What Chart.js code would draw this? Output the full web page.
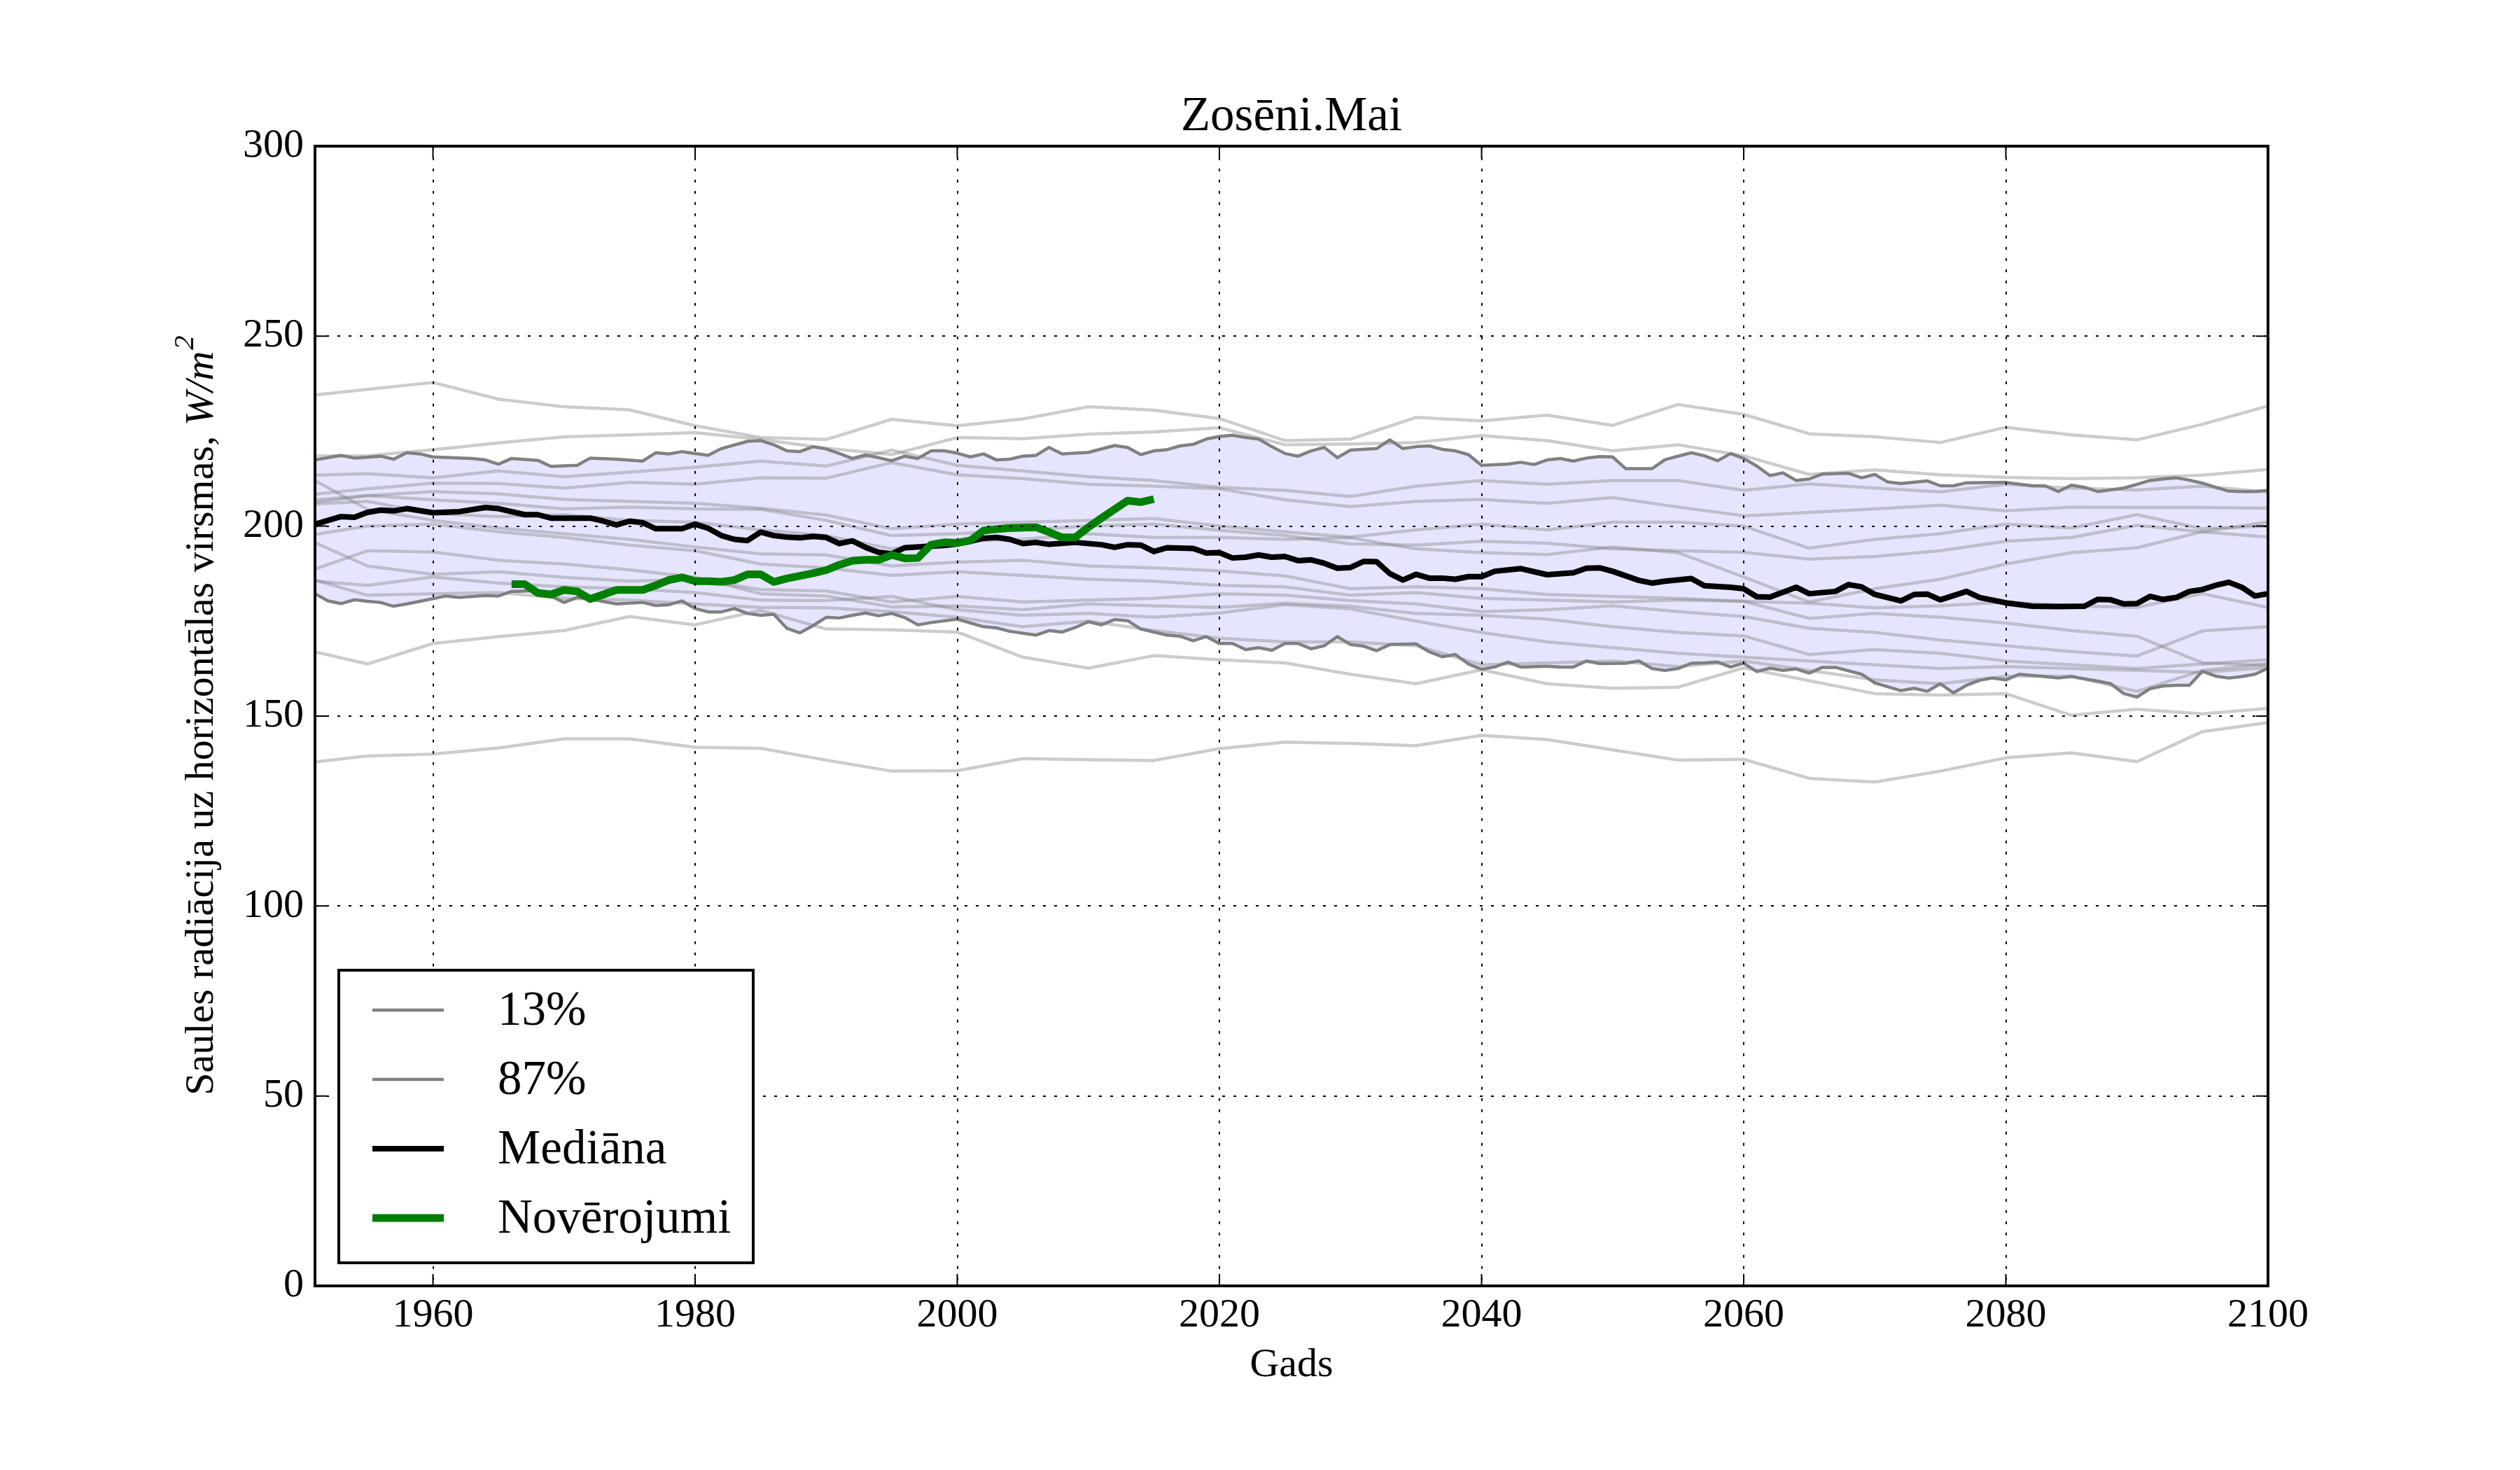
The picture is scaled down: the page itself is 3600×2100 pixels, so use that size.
<!DOCTYPE html>
<html><head><meta charset="utf-8">
<script src="https://cdn.jsdelivr.net/npm/chart.js@4.4.1/dist/chart.umd.min.js"></script>
<style>html,body{margin:0;padding:0;background:#fff;}canvas{display:block;}</style>
</head><body>
<canvas id="c" width="3600" height="2100" style="width:3600px;height:2100px"></canvas>
<script>
const chartTitle = 'Zosēni.Mai';
const xTitle = 'Gads';
const yTitleMain = 'Saules radiācija uz horizontālas virsmas, ';
const yTitleUnit = 'W/m';
const yTitleSup = '2';
const seriesLabels = ['13%', '87%', 'Mediāna', 'Novērojumi'];
const xTicks = [1960, 1980, 2000, 2020, 2040, 2060, 2080, 2100];
const yTicks = [0, 50, 100, 150, 200, 250, 300];

const grayYears = [1951,1955,1960,1965,1970,1975,1980,1985,1990,1995,2000,2005,2010,2015,2020,2025,2030,2035,2040,2045,2050,2055,2060,2065,2070,2075,2080,2085,2090,2095,2100];
const model01 = [234.5,236.0,237.8,233.4,231.4,230.6,226.4,223.3,222.8,228.1,226.4,228.2,231.4,230.5,228.3,222.5,222.9,228.6,227.7,229.2,226.5,232.0,229.4,224.3,223.5,222.0,226.0,224.0,222.7,226.8,231.6];
const model02 = [218.5,218.5,220.1,221.9,223.5,224.0,224.6,222.8,220.5,218.8,223.3,223.0,224.2,224.8,225.9,221.4,221.6,222.0,223.8,222.5,219.8,221.4,218.5,213.6,214.8,213.5,212.8,212.5,212.7,213.4,214.9];
const model03 = [213.4,213.8,212.7,214.5,213.0,214.2,215.5,217.1,215.8,220.0,216.0,214.5,213.0,212.0,210.2,209.4,207.8,210.5,212.0,211.0,212.0,212.0,209.4,211.1,210.0,209.0,211.0,210.0,209.5,210.5,209.0];
const model04 = [208.4,209.8,211.3,211.2,210.0,211.5,211.0,212.7,212.6,216.7,213.5,212.5,211.0,210.5,209.8,206.9,205.1,206.5,207.0,206.0,207.5,205.0,202.7,203.6,204.5,205.5,204.0,205.0,204.9,204.9,204.7];
const model05 = [206.9,208.0,209.1,208.5,207.0,206.5,206.0,204.7,202.9,199.3,200.5,201.0,201.5,202.0,200.0,198.5,197.1,199.0,200.5,199.0,201.0,201.0,200.0,194.2,196.5,198.0,200.5,199.5,203.0,199.3,200.0];
const model06 = [206.2,208.0,206.9,206.0,204.5,205.0,204.5,204.4,201.5,197.5,198.0,199.0,200.0,200.5,198.9,197.5,195.3,195.0,196.0,195.5,194.0,193.5,193.1,191.3,192.0,193.5,196.0,197.0,200.2,198.5,201.1];
const model07 = [205.8,206.5,203.3,202.5,203.0,201.5,201.0,199.0,197.5,194.0,196.0,196.5,198.0,197.0,197.0,196.5,196.9,194.0,193.0,192.5,194.5,193.0,186.6,180.0,183.5,186.0,190.0,193.0,194.3,198.5,197.1];
const model08 = [212.0,204.4,201.5,199.5,198.0,196.5,194.5,192.7,192.4,189.5,190.5,191.0,189.5,189.0,188.2,186.9,183.5,184.0,183.5,182.0,181.5,181.0,180.2,179.7,178.5,179.0,180.0,179.0,178.6,182.2,178.6];
const model09 = [197.8,200.0,200.5,198.5,197.0,195.0,193.5,190.0,189.0,187.0,188.0,187.0,186.0,185.5,184.4,184.0,181.8,182.5,181.0,180.5,180.0,180.5,180.2,175.7,177.0,176.0,174.5,172.5,171.0,164.0,163.3];
const model10 = [195.6,189.5,187.3,188.0,186.5,185.5,186.0,183.3,182.9,180.0,181.5,180.0,180.5,181.0,182.2,181.8,180.4,179.5,177.5,178.0,179.0,177.5,176.2,173.1,172.0,170.0,168.5,167.0,165.8,172.4,173.5];
const model11 = [188.7,193.5,193.2,191.0,190.0,188.5,186.5,182.2,181.6,178.7,179.0,178.0,179.5,179.0,178.6,179.7,178.9,177.0,176.5,175.5,173.5,172.0,171.1,166.2,167.5,166.5,164.5,163.5,162.5,163.7,164.8];
const model12 = [185.5,184.4,186.6,185.0,184.0,183.5,182.5,180.5,180.4,181.5,178.0,176.5,177.0,176.0,177.1,179.3,178.2,175.0,172.0,169.5,168.0,166.5,165.5,164.5,163.5,162.5,163.0,162.5,162.0,161.5,162.8];
const model13 = [185.8,181.8,182.2,182.5,181.0,180.5,179.5,178.6,178.5,177.5,176.0,173.5,175.0,172.5,170.5,169.5,169.5,168.5,163.5,164.0,164.5,163.0,164.5,162.0,159.5,158.5,160.5,160.5,156.5,162.0,163.8];
const model14 = [166.9,163.7,169.1,170.9,172.5,176.2,174.0,177.8,172.9,172.7,172.1,165.5,162.6,165.9,164.8,164.0,161.0,158.5,162.2,158.5,157.3,157.6,162.7,159.3,155.9,155.5,155.9,150.2,151.8,150.6,152.0];
const model15 = [137.9,139.5,140.0,141.6,144.0,144.0,141.8,141.5,138.4,135.5,135.6,138.8,138.5,138.3,141.4,143.1,142.8,142.2,144.9,143.8,141.1,138.4,138.6,133.6,132.6,135.5,139.0,140.3,138.0,145.9,148.3];

const medianYears = [
 1951,1953,1954,1955,1956,1957,1958,1960,1962,1964,
 1965,1967,1968,1969,1972,1973,1974,1975,1976,1977,
 1979,1980,1981,1982,1983,1984,1985,1986,1987,1988,
 1989,1990,1991,1992,1993,1994,1995,1996,1998,1999,
 2000,2001,2002,2003,2004,2005,2006,2007,2009,2011,
 2012,2013,2014,2015,2016,2018,2019,2020,2021,2022,
 2023,2024,2025,2026,2027,2028,2029,2030,2031,2032,
 2033,2034,2035,2036,2037,2038,2039,2040,2041,2043,
 2045,2047,2048,2049,2050,2052,2053,2054,2056,2057,
 2059,2060,2061,2062,2064,2065,2067,2068,2069,2070,
 2072,2073,2074,2075,2077,2078,2080,2082,2084,2086,
 2087,2088,2089,2090,2091,2092,2093,2094,2095,2096,
 2097,2098,2099,2100];
const medianValues = [
 200.5,202.5,202.3,203.6,204.2,204.0,204.6,203.5,203.8,204.9,
 204.6,203.0,203.0,202.1,202.1,201.3,200.3,201.3,200.9,199.3,
 199.3,200.5,199.4,197.5,196.5,196.2,198.4,197.5,197.1,196.9,
 197.3,197.0,195.4,196.1,194.4,193.1,192.7,194.3,194.7,194.9,
 195.3,196.0,196.8,197.0,196.5,195.4,195.7,195.2,195.7,195.1,
 194.4,195.1,195.0,193.3,194.3,194.1,192.9,193.0,191.6,191.8,
 192.4,191.8,192.0,190.9,191.1,190.2,188.9,189.1,190.7,190.6,
 187.5,185.8,187.3,186.3,186.3,186.0,186.7,186.7,188.1,188.8,
 187.2,187.7,188.9,189.0,188.1,185.7,185.0,185.5,186.2,184.3,
 183.9,183.5,181.4,181.3,183.9,182.2,182.8,184.6,184.0,182.0,
 180.3,182.0,182.1,180.6,182.8,181.2,179.8,178.9,178.8,178.9,
 180.7,180.6,179.5,179.6,181.5,180.7,181.2,182.8,183.3,184.4,
 185.2,183.9,181.6,182.2];

const p87Years = [
 1951,1953,1954,1956,1957,1958,1959,1960,1963,1964,
 1965,1966,1968,1969,1971,1972,1974,1976,1977,1978,
 1979,1981,1982,1984,1985,1986,1987,1988,1989,1990,
 1991,1992,1993,1994,1995,1996,1997,1998,1999,2000,
 2001,2002,2003,2004,2005,2006,2007,2008,2010,2012,
 2013,2014,2015,2016,2017,2018,2019,2020,2021,2022,
 2023,2024,2025,2026,2027,2028,2029,2030,2032,2033,
 2034,2035,2036,2037,2038,2039,2040,2042,2043,2044,
 2045,2046,2047,2048,2049,2050,2051,2053,2054,2056,
 2057,2058,2059,2060,2061,2062,2063,2064,2065,2066,
 2068,2069,2070,2071,2072,2074,2075,2076,2077,2080,
 2082,2083,2084,2085,2086,2087,2089,2090,2091,2092,
 2093,2094,2095,2096,2097,2098,2099,2100];
const p87Values = [
 217.4,218.6,217.9,218.4,217.6,219.3,219.0,218.2,217.8,217.4,
 216.3,217.8,217.3,215.7,216.0,217.9,217.6,217.1,219.3,219.0,
 219.6,218.6,220.4,222.3,222.5,221.4,219.8,219.6,220.9,220.3,
 219.1,217.8,218.7,218.0,217.2,218.4,217.8,219.8,219.8,219.2,
 218.2,219.0,217.4,217.6,218.4,218.6,220.7,219.0,219.4,221.2,
 220.7,218.8,219.8,220.1,221.1,221.5,222.9,223.6,223.9,223.3,
 222.9,220.9,219.1,218.4,219.8,220.7,218.0,220.0,220.4,222.7,
 220.4,220.9,221.1,220.2,219.8,218.8,216.0,216.3,216.8,216.2,
 217.4,217.8,217.1,217.9,218.3,218.2,215.1,215.1,217.5,219.3,
 218.5,217.2,219.1,217.8,215.8,213.3,214.0,212.0,212.4,213.7,
 213.9,212.7,213.6,211.6,211.2,211.9,210.6,210.6,211.4,211.5,
 210.6,210.6,209.1,210.8,210.2,209.1,210.0,211.0,212.0,212.4,
 212.7,212.1,211.3,210.2,209.2,209.1,209.1,209.4];

const p13Years = [
 1951,1952,1953,1954,1955,1956,1957,1958,1960,1961,
 1962,1964,1965,1966,1968,1969,1970,1971,1972,1974,
 1976,1977,1978,1979,1980,1981,1982,1983,1984,1985,
 1986,1987,1988,1989,1990,1991,1992,1993,1994,1995,
 1996,1997,1998,2000,2002,2003,2004,2006,2007,2008,
 2009,2010,2011,2012,2013,2014,2016,2017,2018,2019,
 2020,2021,2022,2023,2024,2025,2026,2027,2028,2029,
 2030,2031,2032,2033,2035,2036,2037,2038,2039,2040,
 2041,2042,2043,2045,2046,2047,2048,2049,2051,2052,
 2053,2054,2055,2056,2057,2058,2059,2060,2061,2062,
 2063,2064,2065,2066,2067,2069,2070,2071,2072,2073,
 2074,2075,2076,2077,2078,2079,2080,2081,2083,2084,
 2085,2087,2088,2089,2090,2091,2092,2093,2094,2095,
 2096,2097,2098,2099,2100];
const p13Values = [
 182.2,180.3,179.6,180.6,180.2,179.9,178.9,179.5,180.9,181.6,
 181.2,181.7,181.6,182.8,183.0,181.6,179.9,181.2,180.8,179.5,
 179.9,179.1,179.3,180.3,178.3,177.4,177.4,178.3,177.0,176.5,
 176.8,173.1,171.9,173.8,176.0,175.8,176.5,177.1,176.4,177.0,
 175.9,174.0,174.6,175.5,173.5,173.2,172.3,171.3,172.5,172.1,
 173.3,174.8,174.0,175.4,175.1,172.9,171.3,171.0,169.8,170.9,
 169.1,169.1,167.5,168.0,167.3,169.1,169.1,167.7,168.5,170.9,
 168.8,168.4,167.2,168.8,169.0,166.9,165.6,166.2,163.7,162.3,
 162.9,164.2,162.9,163.1,162.9,162.9,164.5,163.8,163.9,164.5,
 162.5,162.0,162.5,163.9,164.0,164.2,162.9,163.9,161.7,162.6,
 162.0,162.4,161.3,162.8,162.8,161.0,158.7,157.7,156.7,157.3,
 156.5,158.5,156.1,158.1,159.4,160.0,159.5,161.0,160.4,160.0,
 160.4,159.2,158.5,155.9,155.0,157.2,157.9,158.1,158.1,161.8,
 160.5,160.0,160.4,161.0,162.6];

const obsYears = [
 1966,1967,1968,1969,1970,1971,1972,1973,1974,1975,
 1976,1977,1978,1979,1980,1981,1982,1983,1984,1985,
 1986,1987,1988,1989,1990,1991,1992,1993,1994,1995,
 1996,1997,1998,1999,2000,2001,2002,2003,2004,2005,
 2006,2007,2008,2009,2010,2011,2012,2013,2014,2015];
const obsValues = [
 184.7,184.7,182.4,182.0,183.2,182.8,180.8,182.0,183.2,183.2,
 183.2,184.4,185.8,186.5,185.5,185.5,185.3,185.8,187.3,187.3,
 185.3,186.2,186.9,187.6,188.4,189.8,190.9,191.1,191.1,192.4,
 191.5,191.6,195.1,195.7,195.6,196.2,198.8,199.2,199.5,199.6,
 199.7,198.4,197.0,197.0,199.7,202.1,204.4,206.7,206.3,207.1];

const FONT = '"Liberation Serif", "Times New Roman", serif';
Chart.defaults.font.family = FONT;
Chart.defaults.color = '#000';

function pts(xs, ys) { return xs.map((x, i) => ({ x: x, y: ys[i] })); }
const models = [model01, model02, model03, model04, model05, model06, model07, model08,
                model09, model10, model11, model12, model13, model14, model15];

const datasets = [
  { label: seriesLabels[3], data: pts(obsYears, obsValues), borderColor: '#008000', borderWidth: 11, fill: false },
  { label: seriesLabels[2], data: pts(medianYears, medianValues), borderColor: '#000000', borderWidth: 8, fill: false },
  { label: seriesLabels[0], data: pts(p13Years, p13Values), borderColor: '#808080', borderWidth: 4.5,
    fill: 3, backgroundColor: 'rgba(0,0,255,0.1)' },
  { label: seriesLabels[1], data: pts(p87Years, p87Values), borderColor: '#808080', borderWidth: 4.5, fill: false }
].concat(models.map((m, i) => ({
  label: 'model' + (i + 1), data: pts(grayYears, m),
  borderColor: 'rgba(128,128,128,0.4)', borderWidth: 4.5, fill: false
})));

const frameTicks = {
  id: 'frameTicks',
  afterDraw(chart) {
    const ctx = chart.ctx, a = chart.chartArea, sx = chart.scales.x, sy = chart.scales.y;
    ctx.save();
    ctx.strokeStyle = '#000';
    ctx.lineWidth = 2;
    const L = 17;
    ctx.beginPath();
    xTicks.forEach(v => {
      const px = sx.getPixelForValue(v);
      ctx.moveTo(px, a.bottom); ctx.lineTo(px, a.bottom - L);
      ctx.moveTo(px, a.top); ctx.lineTo(px, a.top + L);
    });
    yTicks.forEach(v => {
      const py = sy.getPixelForValue(v);
      ctx.moveTo(a.left, py); ctx.lineTo(a.left + L, py);
      ctx.moveTo(a.right, py); ctx.lineTo(a.right - L, py);
    });
    ctx.stroke();
    ctx.lineWidth = 4;
    ctx.strokeRect(a.left, a.top, a.right - a.left, a.bottom - a.top);
    ctx.restore();
  }
};

const yTitlePlugin = {
  id: 'yTitle',
  afterDraw(chart) {
    const ctx = chart.ctx, a = chart.chartArea;
    const cx = 289, cy = (a.top + a.bottom) / 2;
    const f1 = '58px ' + FONT, f2 = 'italic 58px ' + FONT, f3 = 'italic 41px ' + FONT;
    ctx.save();
    ctx.translate(cx, cy);
    ctx.rotate(-Math.PI / 2);
    ctx.font = f1; const w1 = ctx.measureText(yTitleMain).width;
    ctx.font = f2; const w2 = ctx.measureText(yTitleUnit).width;
    ctx.font = f3; const w3 = ctx.measureText(yTitleSup).width;
    let x = -(w1 + w2 + w3) / 2;
    ctx.fillStyle = '#000';
    ctx.textBaseline = 'middle';
    ctx.textAlign = 'left';
    ctx.font = f1; ctx.fillText(yTitleMain, x, 0); x += w1;
    ctx.font = f2; ctx.fillText(yTitleUnit, x, 0); x += w2 + 2;
    ctx.font = f3; ctx.fillText(yTitleSup, x, -24);
    ctx.restore();
  }
};

const boxLegend = {
  id: 'boxLegend',
  afterDraw(chart) {
    const ctx = chart.ctx, a = chart.chartArea;
    const x0 = a.left + 34, w = 592, h = 418, y0 = a.bottom - 33 - h;
    ctx.save();
    ctx.fillStyle = '#fff';
    ctx.fillRect(x0, y0, w, h);
    ctx.lineWidth = 4;
    ctx.strokeStyle = '#000';
    ctx.strokeRect(x0, y0, w, h);
    const order = [2, 3, 1, 0];
    order.forEach((idx, k) => {
      const ds = chart.data.datasets[idx];
      const y = y0 + 57 + k * 99;
      ctx.beginPath();
      ctx.moveTo(x0 + 48, y); ctx.lineTo(x0 + 150, y);
      ctx.strokeStyle = ds.borderColor;
      ctx.lineWidth = ds.borderWidth;
      ctx.lineCap = 'butt';
      ctx.stroke();
      ctx.fillStyle = '#000';
      ctx.font = '69px ' + FONT;
      ctx.textBaseline = 'middle';
      ctx.textAlign = 'left';
      ctx.fillText(ds.label, x0 + 227, y + 3);
    });
    ctx.restore();
  }
};

new Chart(document.getElementById('c'), {
  type: 'line',
  data: { datasets: datasets },
  options: {
    responsive: false,
    animation: false,
    devicePixelRatio: 1,
    layout: { padding: { left: 0, right: 360, top: 0, bottom: 0 } },
    elements: {
      point: { radius: 0, hoverRadius: 0 },
      line: { tension: 0, borderJoinStyle: 'round', borderCapStyle: 'butt' }
    },
    plugins: {
      legend: { display: false },
      tooltip: { enabled: false },
      filler: { drawTime: 'beforeDatasetsDraw', propagate: false },
      title: {
        display: true, text: chartTitle, color: '#000', fullSize: false,
        font: { family: FONT, size: 69, weight: 'normal', lineHeight: 1.2 },
        padding: { top: 126, bottom: 0 }
      }
    },
    scales: {
      x: {
        type: 'linear', min: 1951, max: 2100,
        afterBuildTicks: s => { s.ticks = xTicks.map(v => ({ value: v })); },
        afterFit: s => { s.height = 263; },
        ticks: { callback: v => String(v), color: '#000', font: { family: FONT, size: 58 }, padding: 8, maxRotation: 0, autoSkip: false },
        grid: { color: '#000', lineWidth: 2, drawTicks: false, z: 1 },
        border: { display: false, dash: [4, 12] },
        title: { display: true, text: xTitle, color: '#000', font: { family: FONT, size: 58, lineHeight: 1.2 }, padding: { top: 0, bottom: 114 } }
      },
      y: {
        type: 'linear', min: 0, max: 300,
        afterBuildTicks: s => { s.ticks = yTicks.map(v => ({ value: v })); },
        afterFit: s => { s.width = 450; },
        ticks: { callback: v => String(v), color: '#000', font: { family: FONT, size: 58 }, padding: 16, autoSkip: false },
        grid: { color: '#000', lineWidth: 2, drawTicks: false, z: 1 },
        border: { display: false, dash: [4, 12] }
      }
    }
  },
  plugins: [frameTicks, yTitlePlugin, boxLegend]
});
</script>
</body></html>
